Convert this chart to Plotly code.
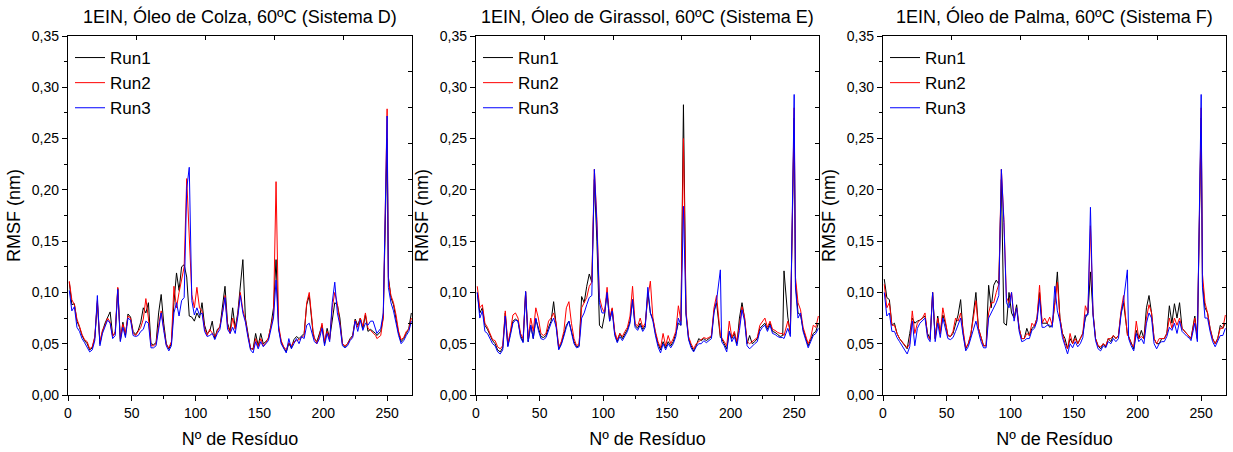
import plotly.graph_objects as go

residues = [1, 3, 5, 7, 9, 11, 13, 15, 17, 19,
            21, 23, 25, 27, 29, 31, 33, 35, 37, 39,
            41, 43, 45, 47, 49, 51, 53, 55, 57, 59,
            61, 63, 65, 67, 69, 71, 73, 75, 77, 79,
            81, 83, 85, 87, 89, 91, 93, 95, 97, 99,
            101, 103, 105, 107, 109, 111, 113, 115, 117, 119,
            121, 123, 125, 127, 129, 131, 133, 135, 137, 139,
            141, 143, 145, 147, 149, 151, 153, 155, 157, 159,
            161, 163, 165, 167, 169, 171, 173, 175, 177, 179,
            181, 183, 185, 187, 189, 192, 193, 195, 197, 199,
            201, 203, 205, 207, 209, 211, 213, 215, 217, 219,
            221, 223, 225, 227, 229, 231, 233, 235, 237, 239,
            241, 242, 245, 247, 250, 251, 253, 255, 257, 259,
            261, 263, 265, 267, 269]

# Sistema D - Oleo de Colza
colza_run1 = [.110, .088, .089, .072, .066, .058, .053, .050, .044, .046,
              .056, .090, .050, .062, .070, .076, .081, .058, .060, .104,
              .053, .071, .058, .079, .076, .062, .059, .063, .071, .085,
              .080, .090, .050, .049, .051, .080, .098, .070, .050, .045,
              .050, .090, .119, .102, .125, .127, .115, .077, .076, .072,
              .080, .075, .090, .068, .060, .062, .072, .055, .064, .066,
              .085, .106, .070, .062, .085, .065, .080, .106, .132, .075,
              .060, .045, .045, .060, .048, .060, .050, .052, .055, .068,
              .085, .132, .065, .052, .046, .042, .050, .046, .054, .057,
              .055, .058, .060, .088, .097, .060, .055, .052, .060, .068,
              .050, .065, .055, .075, .090, .088, .075, .050, .047, .050,
              .055, .058, .074, .068, .075, .065, .078, .062, .064, .062,
              .060, .058, .062, .076, .250, .115, .095, .088, .075, .060,
              .052, .055, .060, .065, .080]
colza_run2 = [.111, .093, .088, .074, .067, .059, .054, .052, .045, .047,
              .057, .092, .052, .063, .068, .075, .071, .057, .062, .105,
              .055, .069, .060, .077, .075, .060, .058, .062, .066, .074,
              .094, .075, .048, .048, .050, .068, .082, .065, .049, .046,
              .052, .106, .085, .100, .112, .125, .211, .150, .098, .085,
              .105, .085, .082, .065, .058, .064, .060, .057, .062, .067,
              .080, .097, .068, .060, .075, .064, .078, .100, .083, .073,
              .058, .046, .044, .055, .047, .055, .048, .051, .056, .066,
              .078, .208, .068, .053, .047, .044, .051, .048, .052, .053,
              .054, .056, .058, .090, .100, .062, .056, .050, .058, .070,
              .052, .062, .054, .085, .100, .089, .070, .050, .048, .050,
              .054, .057, .073, .066, .075, .067, .080, .065, .063, .060,
              .058, .055, .058, .075, .279, .112, .097, .090, .078, .062,
              .054, .056, .062, .064, .075]
colza_run3 = [.102, .082, .086, .066, .062, .055, .051, .047, .042, .044,
              .053, .097, .048, .060, .066, .073, .070, .055, .058, .103,
              .052, .066, .056, .075, .073, .058, .057, .058, .062, .064,
              .072, .070, .046, .046, .048, .065, .080, .063, .048, .043,
              .048, .080, .090, .077, .092, .095, .201, .222, .092, .078,
              .085, .078, .080, .062, .057, .058, .060, .054, .060, .064,
              .078, .095, .064, .060, .066, .060, .076, .097, .080, .071,
              .056, .044, .041, .052, .045, .052, .047, .050, .053, .064,
              .075, .112, .064, .050, .045, .041, .055, .045, .050, .055,
              .050, .057, .055, .068, .070, .058, .052, .050, .055, .065,
              .048, .060, .052, .090, .110, .080, .068, .048, .046, .048,
              .053, .056, .072, .062, .073, .063, .070, .068, .072, .072,
              .063, .060, .065, .080, .272, .105, .090, .082, .070, .058,
              .050, .053, .058, .062, .072]

# Sistema E - Oleo de Girassol
girassol_run1 = [.100, .080, .085, .068, .064, .058, .053, .050, .044, .042,
                 .046, .080, .048, .060, .072, .074, .072, .058, .052, .100,
                 .052, .068, .055, .074, .065, .057, .056, .058, .066, .072,
                 .091, .068, .045, .050, .058, .068, .072, .062, .052, .047,
                 .048, .096, .090, .106, .118, .110, .210, .150, .068, .065,
                 .078, .100, .072, .084, .060, .052, .060, .055, .060, .064,
                 .072, .093, .068, .065, .070, .064, .068, .100, .080, .074,
                 .060, .050, .044, .052, .046, .052, .048, .052, .060, .070,
                 .068, .283, .080, .055, .048, .043, .048, .055, .053, .055,
                 .053, .055, .057, .082, .090, .056, .055, .050, .045, .062,
                 .055, .060, .050, .075, .090, .075, .050, .058, .050, .052,
                 .055, .065, .068, .070, .064, .070, .062, .061, .059, .057,
                 .058, .121, .076, .060, .270, .110, .080, .078, .064, .055,
                 .048, .054, .060, .062, .070]
girassol_run2 = [.106, .085, .088, .070, .066, .060, .054, .053, .047, .045,
                 .048, .082, .050, .062, .078, .080, .075, .060, .055, .101,
                 .055, .075, .062, .085, .075, .060, .058, .060, .072, .075,
                 .080, .070, .047, .052, .062, .085, .091, .070, .055, .048,
                 .050, .085, .090, .095, .106, .110, .220, .171, .095, .085,
                 .080, .105, .075, .085, .062, .054, .060, .057, .062, .066,
                 .077, .106, .070, .067, .075, .066, .070, .095, .111, .075,
                 .062, .052, .046, .060, .048, .058, .050, .055, .062, .087,
                 .072, .250, .082, .057, .050, .045, .050, .052, .054, .056,
                 .055, .056, .058, .085, .097, .058, .056, .052, .048, .072,
                 .056, .062, .052, .068, .086, .076, .052, .050, .052, .054,
                 .056, .068, .072, .075, .066, .072, .064, .063, .061, .060,
                 .060, .058, .072, .062, .280, .115, .090, .083, .066, .057,
                 .050, .056, .068, .066, .077]
girassol_run3 = [.100, .075, .082, .062, .060, .055, .050, .048, .042, .040,
                 .044, .077, .047, .058, .070, .073, .072, .056, .051, .101,
                 .052, .068, .055, .075, .063, .055, .054, .056, .064, .070,
                 .075, .066, .044, .049, .057, .066, .072, .062, .050, .046,
                 .047, .075, .080, .088, .095, .097, .220, .165, .090, .080,
                 .080, .100, .072, .082, .058, .051, .057, .053, .058, .062,
                 .070, .093, .066, .063, .068, .062, .066, .105, .080, .072,
                 .058, .047, .041, .050, .044, .050, .046, .050, .057, .075,
                 .068, .184, .078, .054, .046, .042, .047, .050, .050, .053,
                 .051, .053, .055, .080, .092, .122, .052, .048, .042, .062,
                 .052, .057, .048, .063, .083, .072, .048, .045, .048, .050,
                 .052, .062, .066, .068, .062, .068, .060, .059, .057, .056,
                 .056, .055, .065, .057, .293, .105, .075, .080, .062, .053,
                 .046, .052, .058, .060, .065]

# Sistema F - Oleo de Palma
palma_run1 = [.113, .095, .093, .068, .070, .060, .055, .052, .048, .045,
              .060, .075, .070, .072, .073, .075, .077, .060, .055, .100,
              .055, .077, .060, .078, .070, .058, .057, .060, .070, .078,
              .093, .060, .045, .050, .058, .080, .100, .065, .055, .048,
              .048, .107, .085, .107, .112, .108, .210, .070, .068, .100,
              .080, .075, .088, .065, .055, .055, .065, .058, .065, .067,
              .075, .100, .070, .070, .070, .066, .068, .090, .120, .075,
              .060, .055, .045, .055, .050, .058, .050, .055, .060, .075,
              .080, .120, .080, .055, .048, .045, .050, .047, .055, .052,
              .058, .055, .058, .080, .090, .060, .057, .050, .045, .063,
              .055, .063, .055, .085, .097, .080, .055, .050, .050, .055,
              .055, .060, .087, .070, .089, .075, .090, .065, .062, .060,
              .057, .055, .077, .055, .270, .110, .085, .080, .065, .055,
              .050, .055, .068, .065, .070]
palma_run2 = [.108, .085, .090, .068, .068, .060, .055, .052, .048, .046,
              .050, .082, .060, .070, .073, .075, .080, .058, .054, .100,
              .055, .075, .060, .085, .072, .058, .057, .062, .075, .072,
              .080, .062, .046, .050, .060, .075, .092, .065, .055, .048,
              .048, .080, .090, .090, .100, .108, .220, .171, .095, .090,
              .100, .075, .085, .065, .055, .055, .060, .058, .070, .067,
              .075, .107, .070, .075, .070, .076, .068, .090, .110, .075,
              .060, .050, .045, .060, .050, .055, .050, .055, .060, .087,
              .080, .165, .080, .055, .048, .047, .050, .048, .055, .055,
              .058, .055, .058, .082, .097, .058, .057, .050, .047, .072,
              .055, .057, .055, .075, .088, .080, .055, .050, .055, .055,
              .055, .060, .075, .065, .075, .068, .075, .065, .062, .060,
              .057, .055, .075, .055, .280, .118, .090, .080, .065, .055,
              .050, .055, .065, .065, .078]
palma_run3 = [.100, .077, .080, .062, .062, .056, .052, .048, .044, .040,
              .047, .072, .048, .065, .070, .073, .075, .056, .052, .100,
              .052, .070, .056, .075, .066, .055, .054, .056, .062, .068,
              .075, .058, .043, .047, .055, .065, .072, .062, .052, .046,
              .046, .075, .080, .085, .090, .097, .220, .168, .090, .085,
              .100, .072, .085, .062, .052, .053, .055, .055, .063, .065,
              .072, .094, .066, .066, .068, .068, .066, .106, .082, .072,
              .056, .048, .040, .050, .046, .052, .047, .050, .056, .078,
              .078, .183, .078, .053, .045, .043, .048, .046, .052, .050,
              .055, .052, .055, .078, .092, .122, .055, .048, .043, .060,
              .052, .055, .050, .070, .080, .075, .050, .045, .050, .052,
              .052, .057, .066, .063, .070, .060, .072, .062, .059, .057,
              .055, .053, .070, .052, .293, .105, .075, .075, .062, .052,
              .047, .052, .058, .058, .065]

panel_titles = ["1EIN, Óleo de Colza, 60ºC (Sistema D)",
                "1EIN, Óleo de Girassol, 60ºC (Sistema E)",
                "1EIN, Óleo de Palma, 60ºC (Sistema F)"]
run_names = ["Run1", "Run2", "Run3"]
run_colors = ["#000000", "#ff0000", "#0000ff"]
panels = [[colza_run1, colza_run2, colza_run3],
          [girassol_run1, girassol_run2, girassol_run3],
          [palma_run1, palma_run2, palma_run3]]

W, H = 1233, 452
FONT = "Arial, 'Liberation Sans', sans-serif"
x_px = [(68, 412), (476, 819), (883, 1226)]
y_dom = [1 - 395 / H, 1 - 36 / H]

fig = go.Figure()
layout = dict(width=W, height=H, margin=dict(l=0, r=0, t=0, b=0),
              paper_bgcolor="white", plot_bgcolor="white",
              separators=",.", font=dict(family=FONT, color="black"),
              annotations=[])

for i in range(3):
    n = i + 1
    xs = "" if n == 1 else str(n)
    tn = str(n + 3)
    xd = [x_px[i][0] / W, x_px[i][1] / W]
    for j in range(3):
        fig.add_trace(go.Scatter(
            x=residues, y=panels[i][j], mode="lines", name=run_names[j],
            line=dict(color=run_colors[j], width=1),
            xaxis="x" + xs, yaxis="y" + xs,
            legend="legend" + xs, showlegend=True))
    # empty helper traces so the top / right frame-tick axes are drawn
    fig.add_trace(go.Scatter(x=[None], y=[None], xaxis="x" + tn, yaxis="y" + xs,
                             showlegend=False, hoverinfo="skip"))
    fig.add_trace(go.Scatter(x=[None], y=[None], xaxis="x" + xs, yaxis="y" + tn,
                             showlegend=False, hoverinfo="skip"))
    layout["xaxis" + xs] = dict(
        domain=xd, anchor="y" + xs, range=[0, 269.5],
        tick0=0, dtick=50, ticks="outside", ticklen=5, tickwidth=1, tickcolor="black",
        minor=dict(dtick=25, ticks="outside", ticklen=3, tickcolor="black"),
        showline=True, linecolor="black", linewidth=1.3, mirror=True,
        showgrid=False, zeroline=False, automargin=False,
        tickfont=dict(size=14, family=FONT),
        title=dict(text="Nº de Resíduo", font=dict(size=18, family=FONT), standoff=12))
    layout["yaxis" + xs] = dict(
        domain=y_dom, anchor="x" + xs, range=[0, 0.35],
        tick0=0, dtick=0.05, tickformat=".2f",
        ticks="outside", ticklen=5, tickwidth=1, tickcolor="black",
        minor=dict(dtick=0.025, ticks="outside", ticklen=3, tickcolor="black"),
        showline=True, linecolor="black", linewidth=1.3, mirror=True,
        showgrid=False, zeroline=False, automargin=False,
        tickfont=dict(size=14, family=FONT),
        title=dict(text="RMSF (nm)", font=dict(size=18, family=FONT), standoff=6))
    layout["xaxis" + tn] = dict(
        overlaying="x" + xs, anchor="y" + xs, side="top", range=[0, 1],
        tickvals=[0.2, 0.4, 0.6, 0.8], ticks="inside", ticklen=4, tickcolor="black",
        showticklabels=False, showline=False, showgrid=False, zeroline=False)
    layout["yaxis" + tn] = dict(
        overlaying="y" + xs, anchor="x" + xs, side="right", range=[0, 1],
        tickvals=[0.1, 0.2, 0.3, 0.4, 0.5, 0.6, 0.7, 0.8, 0.9], ticks="inside",
        ticklen=4, tickcolor="black",
        showticklabels=False, showline=False, showgrid=False, zeroline=False)
    layout["legend" + xs] = dict(
        x=(x_px[i][0] + 2) / W, y=1 - 40 / H, xanchor="left", yanchor="top",
        bgcolor="rgba(0,0,0,0)", font=dict(size=17, family=FONT),
        tracegroupgap=0, itemwidth=30)
    layout["annotations"].append(dict(
        text=panel_titles[i], x=(xd[0] + xd[1]) / 2, y=1 - 16 / H,
        xref="paper", yref="paper", xanchor="center", yanchor="middle",
        showarrow=False, font=dict(size=18, family=FONT)))

fig.update_layout(**layout)
fig.write_html("out.html")
